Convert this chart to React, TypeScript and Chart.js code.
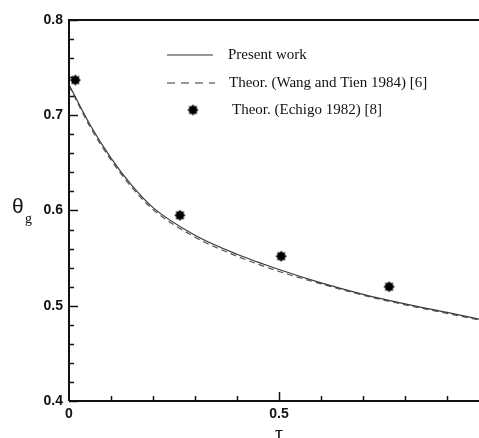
import React, { useEffect, useRef } from "react";
import { Chart, registerables } from "chart.js";

Chart.register(...registerables);

// ---- data ----
const curveTau = [0, 0.05, 0.1, 0.15, 0.2, 0.3, 0.4, 0.5, 0.6, 0.7, 0.8, 0.9, 0.976];
const presentWork = [0.732, 0.69, 0.655, 0.626, 0.603, 0.574, 0.554, 0.538, 0.524, 0.512, 0.502, 0.493, 0.486];
const wangTien = [0.731, 0.688, 0.653, 0.624, 0.601, 0.572, 0.552, 0.536, 0.523, 0.511, 0.501, 0.492, 0.485];
const echigoTau = [0.015, 0.264, 0.505, 0.762];
const echigoTheta = [0.737, 0.595, 0.552, 0.52];

const xTickLabels = ["0", "0.5"];
const legendLabels = ["Present work", "Theor. (Wang and Tien 1984) [6]", "Theor. (Echigo 1982) [8]"];

function makeStar(): HTMLCanvasElement {
  const c = document.createElement("canvas");
  c.width = 13;
  c.height = 13;
  const g = c.getContext("2d")!;
  g.fillStyle = "#000";
  g.beginPath();
  const n = 16;
  for (let i = 0; i < n; i++) {
    const a = (i / n) * Math.PI * 2;
    const r = i % 2 === 0 ? 5.6 : 4;
    const px = 6.5 + r * Math.cos(a);
    const py = 6.5 + r * Math.sin(a);
    if (i === 0) g.moveTo(px, py);
    else g.lineTo(px, py);
  }
  g.closePath();
  g.fill();
  return c;
}

export default function App() {
  const ref = useRef<HTMLCanvasElement | null>(null);

  useEffect(() => {
    const canvas = ref.current;
    if (!canvas) return;
    const star = makeStar();

    const framePlugin = {
      id: "frame",
      afterDraw(chart: any) {
        const ctx = chart.ctx as CanvasRenderingContext2D;
        const { left, right, top, bottom } = chart.chartArea;
        const xs = chart.scales.x;
        const ys = chart.scales.y;
        ctx.save();
        ctx.strokeStyle = "#111";
        ctx.lineWidth = 2;
        ctx.beginPath();
        ctx.moveTo(left, bottom);
        ctx.lineTo(left, top);
        ctx.lineTo(right, top);
        ctx.moveTo(left, bottom);
        ctx.lineTo(right, bottom);
        ctx.stroke();
        // y ticks (inward)
        ctx.lineWidth = 1.5;
        ctx.beginPath();
        for (let i = 0; i <= 20; i++) {
          const v = 0.4 + i * 0.02;
          const py = Math.round(ys.getPixelForValue(v)) + 0.5;
          const major = i % 5 === 0;
          ctx.moveTo(left, py);
          ctx.lineTo(left + (major ? 9 : 5), py);
        }
        // x ticks (inward)
        for (let i = 1; i <= 9; i++) {
          const v = i * 0.1;
          const px = Math.round(xs.getPixelForValue(v)) + 0.5;
          const major = i === 5;
          ctx.moveTo(px, bottom);
          ctx.lineTo(px, bottom - (major ? 9 : 5));
        }
        ctx.stroke();

        // axis titles
        ctx.fillStyle = "#111";
        ctx.textAlign = "left";
        ctx.textBaseline = "alphabetic";
        ctx.font = "21px 'Liberation Sans'";
        ctx.fillText("θ", 12, 213);
        ctx.font = "14px 'Liberation Serif'";
        ctx.fillText("g", 25, 223);
        ctx.textAlign = "center";
        ctx.textBaseline = "top";
        ctx.font = "20px 'Liberation Serif'";
        ctx.fillText("τ", xs.getPixelForValue(0.5), 425);

        // legend
        ctx.textAlign = "left";
        ctx.textBaseline = "middle";
        ctx.font = "15px 'Liberation Serif'";
        ctx.strokeStyle = "#333";
        ctx.lineWidth = 1.2;
        ctx.beginPath();
        ctx.moveTo(167, 55);
        ctx.lineTo(213, 55);
        ctx.stroke();
        ctx.setLineDash([8, 6]);
        ctx.beginPath();
        ctx.moveTo(167, 83);
        ctx.lineTo(215, 83);
        ctx.stroke();
        ctx.setLineDash([]);
        ctx.drawImage(star, 193 - 6.5, 110 - 6.5);
        ctx.fillText(legendLabels[0], 228, 55);
        ctx.fillText(legendLabels[1], 229, 83);
        ctx.fillText(legendLabels[2], 232, 110);
        ctx.restore();
      },
    };

    const chart = new Chart(canvas, {
      type: "scatter",
      data: {
        datasets: [
          {
            label: legendLabels[0],
            type: "line",
            data: curveTau.map((t, i) => ({ x: t, y: presentWork[i] })),
            borderColor: "#3a3a3a",
            borderWidth: 1.2,
            pointRadius: 0,
            cubicInterpolationMode: "monotone",
            fill: false,
          },
          {
            label: legendLabels[1],
            type: "line",
            data: curveTau.map((t, i) => ({ x: t, y: wangTien[i] })),
            borderColor: "#555",
            borderWidth: 1.2,
            borderDash: [6, 4],
            pointRadius: 0,
            cubicInterpolationMode: "monotone",
            fill: false,
          },
          {
            label: legendLabels[2],
            data: echigoTau.map((t, i) => ({ x: t, y: echigoTheta[i] })),
            pointStyle: star as any,
            pointRadius: 6,
            backgroundColor: "#000",
            borderColor: "#000",
          },
        ],
      },
      options: {
        animation: false,
        responsive: false,
        layout: { autoPadding: false, padding: { top: 20, right: 0, left: 0, bottom: 0 } },
        plugins: { legend: { display: false }, tooltip: { enabled: false } },
        scales: {
          x: {
            type: "linear",
            min: 0,
            max: 0.976,
            grid: { display: false, drawTicks: false },
            border: { display: false },
            ticks: {
              stepSize: 0.5,
              includeBounds: false,
              padding: 5,
              color: "#111",
              font: { family: "'Liberation Sans'", size: 14, weight: "bold" },
              callback: (v: any) => {
                const idx = [0, 0.5].indexOf(Number(v));
                return idx >= 0 ? xTickLabels[idx] : "";
              },
            },
            afterFit: (s: any) => {
              s.height = 37;
              s.paddingLeft = 0;
              s.paddingRight = 0;
            },
          },
          y: {
            type: "linear",
            min: 0.4,
            max: 0.8,
            grid: { display: false, drawTicks: false },
            border: { display: false },
            ticks: {
              stepSize: 0.1,
              padding: 6,
              color: "#111",
              font: { family: "'Liberation Sans'", size: 14, weight: "bold" },
              callback: (v: any) => Number(v).toFixed(1),
            },
            afterFit: (s: any) => {
              s.width = 69;
              s.paddingTop = 0;
              s.paddingBottom = 0;
            },
          },
        },
      },
      plugins: [framePlugin],
    });

    return () => chart.destroy();
  }, []);

  return (
    <div style={{ position: "absolute", left: 0, top: 0, width: 479, height: 438, background: "#fff" }}>
      <canvas ref={ref} width={479} height={438} style={{ display: "block" }} />
    </div>
  );
}
